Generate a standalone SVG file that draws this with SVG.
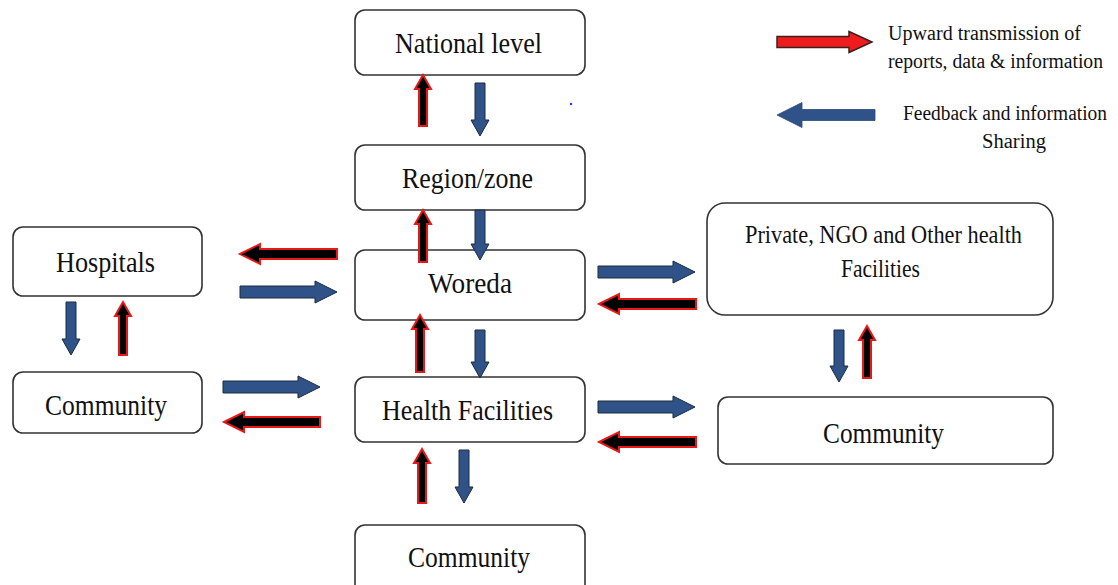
<svg xmlns="http://www.w3.org/2000/svg" width="1118" height="585" viewBox="0 0 1118 585">
<style>
.box{fill:#fff;stroke:#333;stroke-width:1.6}
.lbl{font-family:"Liberation Serif","Times New Roman",serif;font-size:30px;fill:#111}
.sm{font-size:25px}
.lg{font-size:20px}
.red{fill:#000;stroke:#e81818;stroke-width:2;stroke-linejoin:miter}
.blue{fill:#2f5288;stroke:#1c2a3c;stroke-width:1}
.lred{fill:#ee1c1c;stroke:#3a2020;stroke-width:1.5}
.lblue{fill:#2f5288;stroke:#2a4a78;stroke-width:0.8}
</style>
<rect width="1118" height="585" fill="#fff"/>
<g id="national"><rect class="box" x="355" y="10" width="230" height="65" rx="10"/><text class="lbl" x="395" y="53" textLength="147" lengthAdjust="spacingAndGlyphs">National level</text></g>
<g id="region"><rect class="box" x="355" y="145" width="230" height="65" rx="10"/><text class="lbl" x="402" y="188" textLength="131" lengthAdjust="spacingAndGlyphs">Region/zone</text></g>
<g id="woreda"><rect class="box" x="355" y="250" width="230" height="70" rx="10"/><text class="lbl" x="428" y="293" textLength="84" lengthAdjust="spacingAndGlyphs">Woreda</text></g>
<g id="health-facilities"><rect class="box" x="355" y="377" width="230" height="65" rx="10"/><text class="lbl" x="382" y="420" textLength="171" lengthAdjust="spacingAndGlyphs">Health Facilities</text></g>
<g id="community-bottom"><rect class="box" x="355" y="525" width="230" height="75" rx="10"/><text class="lbl" x="408" y="567" textLength="122" lengthAdjust="spacingAndGlyphs">Community</text></g>
<g id="hospitals"><rect class="box" x="13" y="227" width="189" height="69" rx="10"/><text class="lbl" x="56" y="272" textLength="99" lengthAdjust="spacingAndGlyphs">Hospitals</text></g>
<g id="community-left"><rect class="box" x="13" y="372" width="189" height="61" rx="10"/><text class="lbl" x="45" y="415" textLength="122" lengthAdjust="spacingAndGlyphs">Community</text></g>
<g id="private"><rect class="box" x="707" y="203" width="346" height="112" rx="18"/><text class="lbl sm" x="745" y="243" textLength="277" lengthAdjust="spacingAndGlyphs">Private, NGO  and Other health</text><text class="lbl sm" x="841" y="277" textLength="79" lengthAdjust="spacingAndGlyphs">Facilities</text></g>
<g id="community-right"><rect class="box" x="718" y="397" width="335" height="67" rx="10"/><text class="lbl" x="823" y="443" textLength="121" lengthAdjust="spacingAndGlyphs">Community</text></g>
<g id="legend">
<polygon class="lred" points="777,36.5 849,36.5 849,31.5 872,42 849,52.5 849,47.5 777,47.5"/>
<text class="lbl lg" x="888" y="40" textLength="193" lengthAdjust="spacingAndGlyphs">Upward transmission of</text>
<text class="lbl lg" x="888" y="68" textLength="215" lengthAdjust="spacingAndGlyphs">reports, data &amp; information</text>
<polygon class="lblue" points="777,115 802,102.5 802,109.5 875,109.5 875,120.5 802,120.5 802,127.5"/>
<text class="lbl lg" x="903" y="120" textLength="204" lengthAdjust="spacingAndGlyphs">Feedback and information</text>
<text class="lbl lg" x="982" y="148" textLength="64" lengthAdjust="spacingAndGlyphs">Sharing</text>
<circle cx="571" cy="104" r="1.2" fill="#3030e0"/>
</g>
<g id="connectors">
<polygon class="red" points="240,254 260,244 260,249 337,249 337,259 260,259 260,264"/>
<polygon class="red" points="224,422 244,412 244,417 320,417 320,427 244,427 244,432"/>
<polygon class="red" points="599,304 619,294 619,299 696,299 696,309 619,309 619,314"/>
<polygon class="red" points="599,442 619,432 619,437 696,437 696,447 619,447 619,452"/>
<polygon class="blue" points="240,286 315,286 315,281 337,292 315,303 315,298 240,298"/>
<polygon class="blue" points="223,381 298,381 298,376 320,387 298,398 298,393 223,393"/>
<polygon class="blue" points="598,266 673,266 673,261 695,272 673,283 673,278 598,278"/>
<polygon class="blue" points="598,401 673,401 673,396 695,407 673,418 673,413 598,413"/>
<polygon class="red" points="423,75 431,89 427,89 427,126 419,126 419,89 415,89"/>
<polygon class="red" points="423,210 431,224 427,224 427,262 419,262 419,224 415,224"/>
<polygon class="red" points="420,315 428,329 424,329 424,372 416,372 416,329 412,329"/>
<polygon class="red" points="422,449 430,463 426,463 426,503 418,503 418,463 414,463"/>
<polygon class="red" points="123,302 131,316 127,316 127,355 119,355 119,316 115,316"/>
<polygon class="red" points="867,326 875,340 871,340 871,378 863,378 863,340 859,340"/>
<polygon class="blue" points="475,83 485,83 485,120 489,120 480,136 471,120 475,120"/>
<polygon class="blue" points="475,210 485,210 485,244 489,244 480,260 471,244 475,244"/>
<polygon class="blue" points="475,330 485,330 485,362 489,362 480,378 471,362 475,362"/>
<polygon class="blue" points="459,450 469,450 469,487 473,487 464,503 455,487 459,487"/>
<polygon class="blue" points="66,302 76,302 76,339 80,339 71,355 62,339 66,339"/>
<polygon class="blue" points="834,330 844,330 844,366 848,366 839,382 830,366 834,366"/>
</g>
</svg>
